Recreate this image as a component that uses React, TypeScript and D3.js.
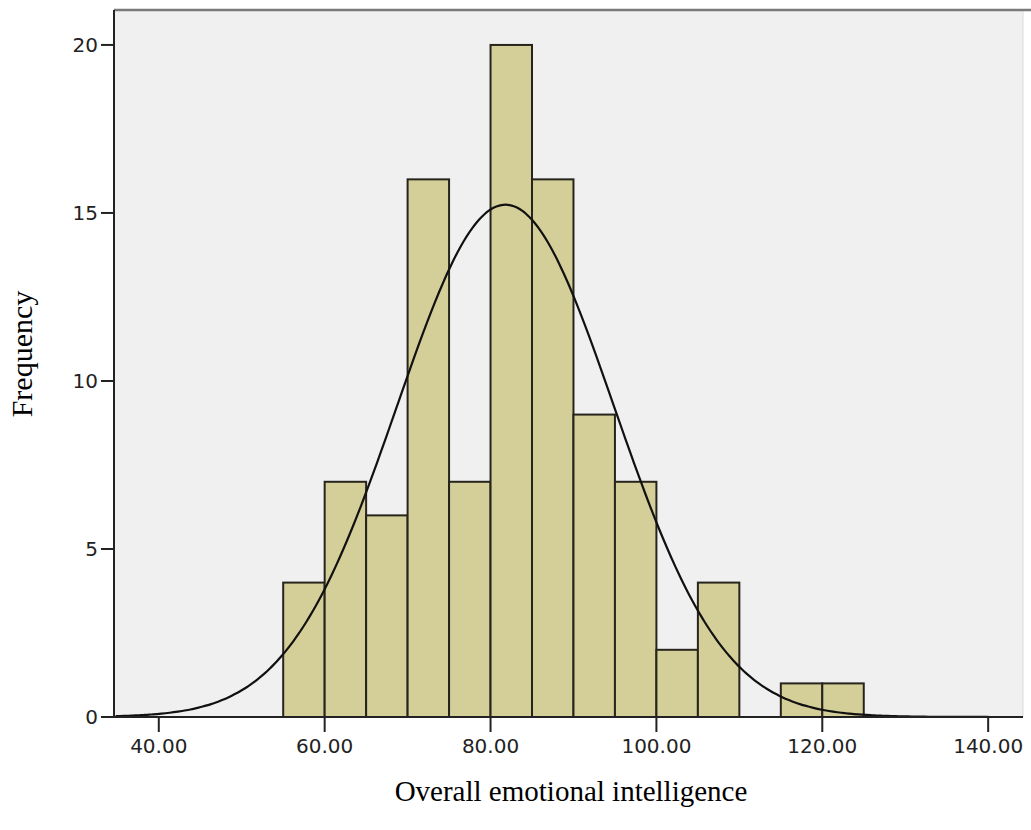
import React from "react";
import * as d3 from "d3";

const binStarts = [55, 60, 65, 70, 75, 80, 85, 90, 95, 100, 105, 110, 115, 120];
const counts = [4, 7, 6, 16, 7, 20, 16, 9, 7, 2, 4, 0, 1, 1];
const binWidth = 5;
const xTicks = [40, 60, 80, 100, 120, 140];
const yTicks = [0, 5, 10, 15, 20];
const fitMean = 81.8;
const fitSd = 13.08;
const totalN = 100;

const W = 1031;
const H = 830;
const left = 114;
const right = 1023;
const top = 10;
const bottom = 717;

export default function App() {
  const x = d3.scaleLinear().domain([34.6, 144.2]).range([left, right]);
  const y = d3.scaleLinear().domain([0, 21.04]).range([bottom, top]);

  const curveX = d3.range(34.8, 144.01, 0.5);
  const dens = (v: number) =>
    (totalN * binWidth) / (fitSd * Math.sqrt(2 * Math.PI)) *
    Math.exp(-0.5 * ((v - fitMean) / fitSd) ** 2);
  const line = d3
    .line<number>()
    .x((d) => x(d))
    .y((d) => y(dens(d)))
    .curve(d3.curveBasis);

  return (
    <svg width={W} height={H} style={{ position: "absolute", left: 0, top: 0 }}>
      <rect x={0} y={0} width={W} height={H} fill="#ffffff" />
      <rect x={left} y={top} width={right - left} height={bottom - top} fill="#f0f0f0" stroke="#dcdcdc" strokeWidth={1} />
      <line x1={left} x2={right + 8} y1={top} y2={top} stroke="#7a7a7a" strokeWidth={2.5} />
      {binStarts.map((b, i) =>
        counts[i] > 0 ? (
          <rect
            key={i}
            x={x(b)}
            y={y(counts[i])}
            width={x(b + binWidth) - x(b)}
            height={bottom - y(counts[i])}
            fill="#d4cf98"
            stroke="#26241c"
            strokeWidth={2}
          />
        ) : null
      )}
      <path d={line(curveX) || ""} fill="none" stroke="#111" strokeWidth={2.2} />
      <line x1={left} x2={left} y1={top} y2={bottom} stroke="#222" strokeWidth={2} />
      <line x1={left} x2={right} y1={bottom} y2={bottom} stroke="#222" strokeWidth={2} />
      {yTicks.map((t) => (
        <g key={t}>
          <line x1={left - 13} x2={left} y1={y(t)} y2={y(t)} stroke="#222" strokeWidth={2} />
          <text
            x={left - 16}
            y={y(t)}
            dy="0.36em"
            textAnchor="end"
            fontFamily="DejaVu Sans"
            fontSize={20}
            fill="#222"
          >
            {t}
          </text>
        </g>
      ))}
      {xTicks.map((t) => (
        <g key={t}>
          <line x1={x(t)} x2={x(t)} y1={bottom} y2={bottom + 15} stroke="#222" strokeWidth={2} />
          <text
            x={x(t)}
            y={bottom + 36}
            textAnchor="middle"
            fontFamily="DejaVu Sans"
            fontSize={20}
            fill="#222"
          >
            {t.toFixed(2)}
          </text>
        </g>
      ))}
      <text
        x={571}
        y={801}
        textAnchor="middle"
        fontFamily="Liberation Serif"
        fontSize={29}
        fill="#000"
      >
        Overall emotional intelligence
      </text>
      <text
        transform={`translate(32, 354) rotate(-90)`}
        textAnchor="middle"
        fontFamily="Liberation Serif"
        fontSize={30}
        fill="#000"
      >
        Frequency
      </text>
    </svg>
  );
}
